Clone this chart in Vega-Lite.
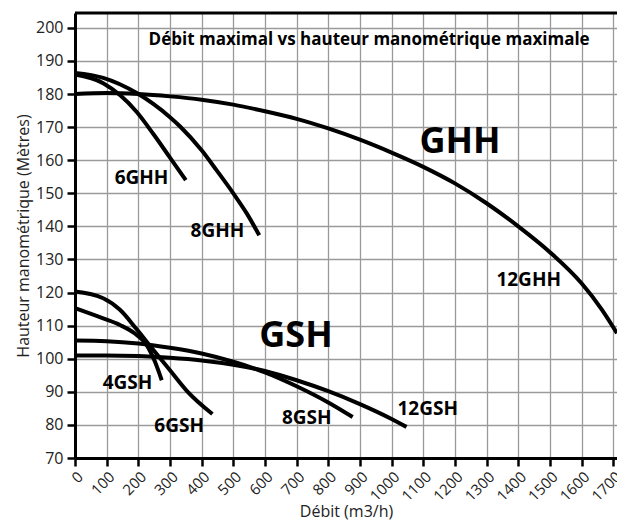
{
  "$schema": "https://vega.github.io/schema/vega-lite/v6.json",
  "width": 542,
  "height": 445,
  "autosize": {"type": "none"},
  "padding": {"left": 75, "top": 13, "right": 0, "bottom": 62},
  "background": "white",
  "config": {
    "view": {"stroke": null},
    "font": "Open Sans"
  },
  "datasets": {
    "curves": [
      {"s": "12GHH", "x": 0, "y": 180}, {"s": "12GHH", "x": 100, "y": 180.3}, {"s": "12GHH", "x": 200, "y": 180}, {"s": "12GHH", "x": 300, "y": 179.3}, {"s": "12GHH", "x": 400, "y": 178.3}, {"s": "12GHH", "x": 500, "y": 176.8}, {"s": "12GHH", "x": 600, "y": 174.8}, {"s": "12GHH", "x": 700, "y": 172.5}, {"s": "12GHH", "x": 800, "y": 169.6}, {"s": "12GHH", "x": 900, "y": 166.2}, {"s": "12GHH", "x": 1000, "y": 162.3}, {"s": "12GHH", "x": 1100, "y": 158}, {"s": "12GHH", "x": 1200, "y": 153}, {"s": "12GHH", "x": 1300, "y": 147}, {"s": "12GHH", "x": 1400, "y": 140}, {"s": "12GHH", "x": 1500, "y": 132.2}, {"s": "12GHH", "x": 1600, "y": 122.8}, {"s": "12GHH", "x": 1663, "y": 115}, {"s": "12GHH", "x": 1712, "y": 107.7},
      {"s": "6GHH", "x": 0, "y": 185.9}, {"s": "6GHH", "x": 89, "y": 183.3}, {"s": "6GHH", "x": 142, "y": 179.7}, {"s": "6GHH", "x": 195, "y": 174.6}, {"s": "6GHH", "x": 247, "y": 168}, {"s": "6GHH", "x": 300, "y": 160.8}, {"s": "6GHH", "x": 350, "y": 154},
      {"s": "8GHH", "x": 0, "y": 186.4}, {"s": "8GHH", "x": 89, "y": 184.9}, {"s": "8GHH", "x": 195, "y": 180.3}, {"s": "8GHH", "x": 300, "y": 173}, {"s": "8GHH", "x": 332, "y": 170.2}, {"s": "8GHH", "x": 400, "y": 163}, {"s": "8GHH", "x": 447, "y": 157}, {"s": "8GHH", "x": 500, "y": 150}, {"s": "8GHH", "x": 542, "y": 144}, {"s": "8GHH", "x": 582, "y": 137.3},
      {"s": "4GSH", "x": 0, "y": 115.3}, {"s": "4GSH", "x": 89, "y": 112.2}, {"s": "4GSH", "x": 142, "y": 110.2}, {"s": "4GSH", "x": 195, "y": 107.2}, {"s": "4GSH", "x": 226, "y": 104.2}, {"s": "4GSH", "x": 253, "y": 99}, {"s": "4GSH", "x": 274, "y": 93.5},
      {"s": "6GSH", "x": 0, "y": 120.3}, {"s": "6GSH", "x": 89, "y": 118.3}, {"s": "6GSH", "x": 142, "y": 114.8}, {"s": "6GSH", "x": 195, "y": 108.9}, {"s": "6GSH", "x": 247, "y": 102.7}, {"s": "6GSH", "x": 300, "y": 96.5}, {"s": "6GSH", "x": 353, "y": 90.3}, {"s": "6GSH", "x": 434, "y": 83.3},
      {"s": "8GSH", "x": 0, "y": 105.5}, {"s": "8GSH", "x": 100, "y": 105.3}, {"s": "8GSH", "x": 200, "y": 104.6}, {"s": "8GSH", "x": 300, "y": 103.3}, {"s": "8GSH", "x": 400, "y": 101.6}, {"s": "8GSH", "x": 500, "y": 99.1}, {"s": "8GSH", "x": 600, "y": 95.9}, {"s": "8GSH", "x": 700, "y": 91.7}, {"s": "8GSH", "x": 800, "y": 86.8}, {"s": "8GSH", "x": 877, "y": 82.4},
      {"s": "12GSH", "x": 0, "y": 101}, {"s": "12GSH", "x": 100, "y": 101}, {"s": "12GSH", "x": 200, "y": 100.8}, {"s": "12GSH", "x": 300, "y": 100.3}, {"s": "12GSH", "x": 400, "y": 99.5}, {"s": "12GSH", "x": 500, "y": 98.2}, {"s": "12GSH", "x": 600, "y": 96.3}, {"s": "12GSH", "x": 700, "y": 93.5}, {"s": "12GSH", "x": 800, "y": 90.2}, {"s": "12GSH", "x": 900, "y": 86.3}, {"s": "12GSH", "x": 1000, "y": 81.8}, {"s": "12GSH", "x": 1047, "y": 79.4}
    ],
    "small": [
      {"label": "6GHH", "x": 210, "y": 154.5},
      {"label": "8GHH", "x": 450, "y": 138.5},
      {"label": "12GHH", "x": 1433, "y": 123.7},
      {"label": "4GSH", "x": 166, "y": 92.6},
      {"label": "6GSH", "x": 329, "y": 79.8},
      {"label": "8GSH", "x": 732, "y": 82},
      {"label": "12GSH", "x": 1114, "y": 84.8}
    ],
    "big": [
      {"label": "GHH", "x": 1216, "y": 165.4},
      {"label": "GSH", "x": 698, "y": 107}
    ],
    "title": [
      {"label": "Débit maximal vs hauteur manométrique maximale", "x": 929, "y": 196.4}
    ]
  },
  "encoding": {
    "x": {
      "field": "x", "type": "quantitative",
      "scale": {"domain": [0, 1712], "nice": false, "zero": false},
      "axis": {
        "title": "Débit (m3/h)", "titleFontSize": 16, "titleFontWeight": "normal", "titleColor": "#222",
        "titleY": 45, "titleBaseline": "top",
        "values": [0, 100, 200, 300, 400, 500, 600, 700, 800, 900, 1000, 1100, 1200, 1300, 1400, 1500, 1600, 1700],
        "format": "d", "labelOverlap": false, "labelBound": false,
        "labelAngle": -45, "labelFontSize": 15, "labelColor": "#222", "labelPadding": 3,
        "tickColor": "#000", "tickWidth": 2.5, "tickSize": 8,
        "domainColor": "#000", "domainWidth": 3,
        "grid": true, "gridColor": "#9a9a9a", "gridWidth": 1.3, "gridOpacity": 1
      }
    },
    "y": {
      "field": "y", "type": "quantitative",
      "scale": {"domain": [70, 204.5], "nice": false, "zero": false},
      "axis": {
        "title": "Hauteur manométrique (Mètres)", "titleFontSize": 16, "titleFontWeight": "normal", "titleColor": "#222", "titlePadding": 4,
        "values": [70, 80, 90, 100, 110, 120, 130, 140, 150, 160, 170, 180, 190, 200],
        "labelOverlap": false,
        "labelFontSize": 16, "labelColor": "#222", "labelPadding": 4,
        "tickColor": "#000", "tickWidth": 2.5, "tickSize": 8,
        "domainColor": "#000", "domainWidth": 3,
        "grid": true, "gridColor": "#9a9a9a", "gridWidth": 1.3, "gridOpacity": 1
      }
    }
  },
  "layer": [
    {
      "data": {"name": "curves"},
      "mark": {"type": "line", "interpolate": "monotone", "color": "#000", "strokeWidth": 4, "strokeCap": "butt"},
      "encoding": {
        "detail": {"field": "s", "type": "nominal"}
      }
    },
    {
      "data": {"name": "title"},
      "mark": {"type": "rule", "color": "#000", "strokeWidth": 3},
      "encoding": {"x": {"datum": 0}, "x2": {"datum": 1712}, "y": {"datum": 204.5}}
    },
    {
      "data": {"name": "small"},
      "mark": {"type": "text", "fontSize": 19, "fontWeight": "bold", "color": "#000", "font": "Open Sans"},
      "encoding": {"text": {"field": "label"}}
    },
    {
      "data": {"name": "big"},
      "mark": {"type": "text", "fontSize": 36, "fontWeight": "bold", "color": "#000", "font": "Open Sans"},
      "encoding": {"text": {"field": "label"}}
    },
    {
      "data": {"name": "title"},
      "mark": {"type": "text", "fontSize": 17, "fontWeight": "bold", "color": "#000", "font": "Open Sans"},
      "encoding": {"text": {"field": "label"}}
    }
  ]
}
